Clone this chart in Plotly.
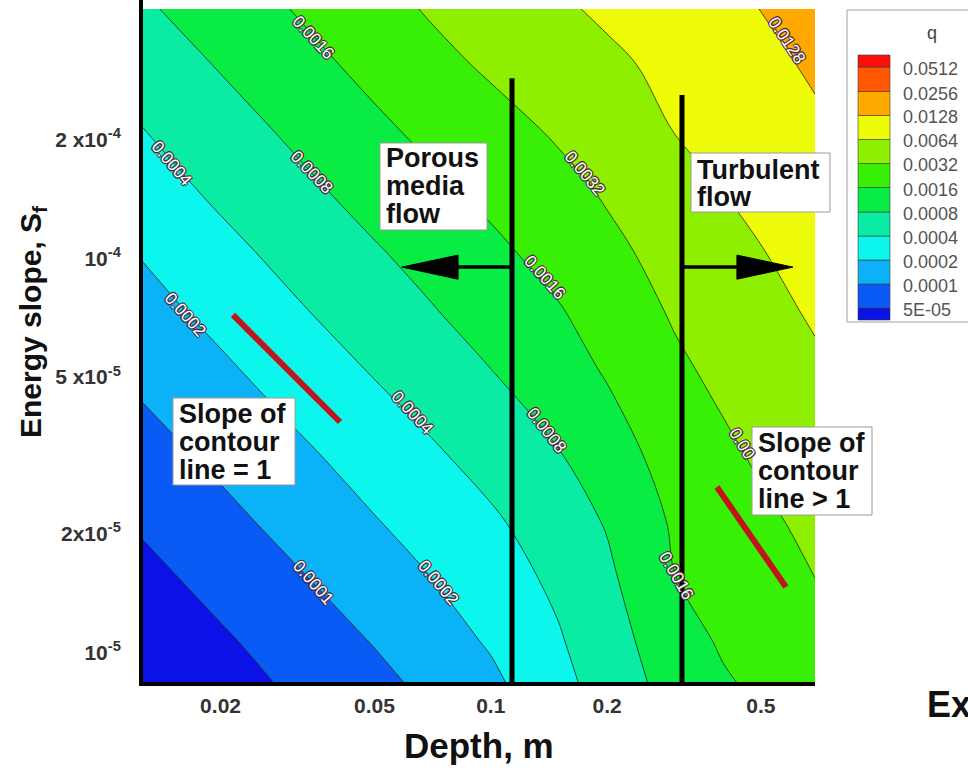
import numpy as np
import plotly.graph_objects as go

# ---------------- figure / plot-area geometry (pixels) ----------------
W, H = 968, 775
PL, PR, PT, PB = 143, 815, 9, 682

def pxx(px):
    return (px - PL) / (PR - PL)

def pxy(py):
    return (PB - py) / (PB - PT)

# ---------------- data ----------------
depth_m = [0.0126, 0.02, 0.03, 0.05, 0.07, 0.1, 0.15, 0.2, 0.3, 0.4, 0.5, 0.69]
energy_slope = [8.41e-6, 1.063e-5, 1.59e-5, 2.12e-5, 3.17e-5, 5.25e-5,
                7.36e-5, 1.045e-4, 1.563e-4, 2.08e-4, 3.114e-4, 4.30e-4]

# q (one row per energy slope, columns follow depth_m)
q_sf01 = [2.50e-5, 3.79e-5, 5.43e-5, 8.47e-5, 1.17e-4, 1.75e-4, 3.25e-4, 5.46e-4, 1.04e-3, 1.49e-3, 1.83e-3, 2.36e-3]
q_sf02 = [3.01e-5, 4.54e-5, 6.51e-5, 1.03e-4, 1.45e-4, 2.14e-4, 3.76e-4, 6.06e-4, 1.18e-3, 1.74e-3, 2.08e-3, 2.73e-3]
q_sf03 = [4.23e-5, 6.42e-5, 9.20e-5, 1.48e-4, 2.04e-4, 2.95e-4, 4.69e-4, 7.16e-4, 1.61e-3, 2.05e-3, 2.48e-3, 3.24e-3]
q_sf04 = [5.43e-5, 8.18e-5, 1.19e-4, 1.91e-4, 2.58e-4, 3.58e-4, 5.70e-4, 8.34e-4, 1.75e-3, 2.29e-3, 2.82e-3, 3.70e-3]
q_sf05 = [7.68e-5, 1.16e-4, 1.68e-4, 2.68e-4, 3.63e-4, 5.13e-4, 7.73e-4, 1.20e-3, 2.07e-3, 2.84e-3, 3.50e-3, 4.53e-3]
q_sf06 = [1.19e-4, 1.80e-4, 2.64e-4, 4.23e-4, 5.78e-4, 8.00e-4, 1.24e-3, 1.70e-3, 2.86e-3, 3.75e-3, 4.49e-3, 5.81e-3]
q_sf07 = [1.58e-4, 2.43e-4, 3.58e-4, 5.70e-4, 7.67e-4, 1.06e-3, 1.53e-3, 2.16e-3, 3.45e-3, 4.37e-3, 5.27e-3, 6.91e-3]
q_sf08 = [2.11e-4, 3.32e-4, 4.82e-4, 7.57e-4, 1.01e-3, 1.39e-3, 2.05e-3, 2.77e-3, 4.02e-3, 5.16e-3, 6.27e-3, 8.27e-3]
q_sf09 = [3.05e-4, 4.76e-4, 6.77e-4, 1.07e-3, 1.45e-3, 1.97e-3, 2.75e-3, 3.53e-3, 5.13e-3, 6.63e-3, 7.83e-3, 9.90e-3]
q_sf10 = [3.89e-4, 5.94e-4, 8.57e-4, 1.38e-3, 1.85e-3, 2.46e-3, 3.43e-3, 4.46e-3, 6.44e-3, 7.88e-3, 9.18e-3, 1.15e-2]
q_sf11 = [5.50e-4, 8.40e-4, 1.22e-3, 1.94e-3, 2.64e-3, 3.53e-3, 4.65e-3, 5.65e-3, 7.56e-3, 9.31e-3, 1.10e-2, 1.39e-2]
q_sf12 = [7.31e-4, 1.11e-3, 1.59e-3, 2.53e-3, 3.41e-3, 4.37e-3, 5.85e-3, 7.10e-3, 9.24e-3, 1.11e-2, 1.29e-2, 1.58e-2]

q_levels = [5e-05, 0.0001, 0.0002, 0.0004, 0.0008, 0.0016, 0.0032, 0.0064, 0.0128, 0.0256, 0.0512]
q_level_labels = ["5E-05", "0.0001", "0.0002", "0.0004", "0.0008", "0.0016",
                  "0.0032", "0.0064", "0.0128", "0.0256", "0.0512"]
# flood colour of each band, from below 5E-05 up to above 0.0512
band_colors = ["#0a12e8", "#0a5af5", "#0cb2f8", "#0cf6ee", "#0aeca4", "#08ec44",
               "#38ef06", "#8ef000", "#eefc08", "#ffa800", "#ff5800", "#ff0c0c"]

x_tickvals = [0.02, 0.05, 0.1, 0.2, 0.5]
x_ticktext = ["0.02", "0.05", "0.1", "0.2", "0.5"]
y_tickvals = [1e-5, 2e-5, 5e-5, 1e-4, 2e-4]
y_ticktext = ["10<sup>-5</sup>", "2x10<sup>-5</sup>", "5 x10<sup>-5</sup>",
              "10<sup>-4</sup>", "2 x10<sup>-4</sup>"]

# flow-regime boundaries and arrows
regime_depth = [0.1135, 0.3124]
regime_top_sf = [2.87e-4, 2.60e-4]
arrow_sf = 9.51e-5
arrow_head_sf = [1.02e-4, 8.86e-5]
arrow_left_depth = [0.1135, 0.0823, 0.0589]    # tail, head base, tip
arrow_right_depth = [0.3124, 0.4334, 0.605]

# red "slope of contour line" markers
slope1_depth = [0.02153, 0.04074]
slope1_sf = [7.19e-5, 3.845e-5]
slope2_depth = [0.3847, 0.5801]
slope2_sf = [2.63e-5, 1.466e-5]

# contour line labels
label_text = ["0.0016", "0.0004", "0.0008", "0.0002", "0.0032", "0.0016", "0.0128",
              "0.0004", "0.0001", "0.0002", "0.0008", "0.00", "0.0016"]
label_depth = [0.0347, 0.01497, 0.0345, 0.01618, 0.1752, 0.1381, 0.5838,
               0.06255, 0.0347, 0.07302, 0.1398, 0.4470, 0.3013]
label_sf = [3.63e-4, 1.747e-4, 1.657e-4, 7.19e-5, 1.647e-4, 8.97e-5, 3.584e-4,
            4.053e-5, 1.501e-5, 1.501e-5, 3.669e-5, 3.40e-5, 1.563e-5]
label_angle = [47, 50, 46, 48, 50, 48, 56, 47, 49, 50, 52, 58, 60]

# ---------------- build figure ----------------
q = np.array([q_sf01, q_sf02, q_sf03, q_sf04, q_sf05, q_sf06,
              q_sf07, q_sf08, q_sf09, q_sf10, q_sf11, q_sf12])
z = np.log2(q / q_levels[0])          # contour level index: 0 -> 5E-05 ... 10 -> 0.0512
nlev = len(q_levels)                   # 11 levels -> 12 bands
nb = len(band_colors)
colorscale = []
for j, c in enumerate(band_colors):
    lo = max(0.0, (j - 0.5) / (nb - 1))
    hi = min(1.0, (j + 0.5) / (nb - 1))
    colorscale.append([lo, c])
    colorscale.append([hi, c])

fig = go.Figure()
fig.add_trace(go.Contour(
    x=depth_m, y=energy_slope, z=z,
    contours=dict(start=0, end=nlev - 1, size=1, coloring="fill", showlines=True),
    line=dict(color="#1e2a1e", width=0.8),
    colorscale=colorscale, showscale=False, hoverinfo="skip",
))

# regime boundaries
for d, top in zip(regime_depth, regime_top_sf):
    fig.add_trace(go.Scatter(x=[d, d], y=[energy_slope[0], top], mode="lines",
                             line=dict(color="black", width=5), hoverinfo="skip",
                             showlegend=False))

# arrows
for arr in (arrow_left_depth, arrow_right_depth):
    fig.add_trace(go.Scatter(x=[arr[0], arr[1]], y=[arrow_sf, arrow_sf], mode="lines",
                             line=dict(color="black", width=3.5), hoverinfo="skip",
                             showlegend=False))
    fig.add_trace(go.Scatter(x=[arr[1], arr[2], arr[1], arr[1]],
                             y=[arrow_head_sf[0], arrow_sf, arrow_head_sf[1], arrow_head_sf[0]],
                             mode="lines", fill="toself", fillcolor="black",
                             line=dict(color="black", width=1), hoverinfo="skip",
                             showlegend=False))

# red slope markers
for xs, ys in ((slope1_depth, slope1_sf), (slope2_depth, slope2_sf)):
    fig.add_trace(go.Scatter(x=xs, y=ys, mode="lines",
                             line=dict(color="#c0161a", width=6), hoverinfo="skip",
                             showlegend=False))

FONT = "Liberation Sans, Arial, Helvetica, sans-serif"
annotations = []
shapes = []

# contour labels
outline = "#4b2a3c"
shadow = ("1px 1px 0 %s, -1px -1px 0 %s, 1px -1px 0 %s, -1px 1px 0 %s"
          % (outline, outline, outline, outline))
for t, d, s, a in zip(label_text, label_depth, label_sf, label_angle):
    fnt = dict(family=FONT, size=17, color="white")
    try:
        ann = go.layout.Annotation(text=t, x=np.log10(d), y=np.log10(s), xref="x", yref="y",
                                   textangle=a, showarrow=False,
                                   font=dict(fnt, shadow=shadow))
    except ValueError:
        ann = go.layout.Annotation(text=t, x=np.log10(d), y=np.log10(s), xref="x", yref="y",
                                   textangle=a, showarrow=False,
                                   font=dict(fnt, color="#333"), bgcolor="white")
    annotations.append(ann)

# text boxes: (left, top, right, bottom) px, lines, line centres
boxes = [
    ((380, 143, 487, 230), ["Porous", "media", "flow"], [158, 186, 214]),
    ((691, 153, 830, 212), ["Turbulent", "flow"], [170, 197]),
    ((173, 398, 295, 485), ["Slope of", "contour", "line = 1"], [414, 442, 470]),
    ((752, 427, 872, 515), ["Slope of", "contour", "line &gt; 1"], [443, 471, 499]),
]
for (x0, y0, x1, y1), lines, ys in boxes:
    shapes.append(dict(type="rect", xref="paper", yref="paper",
                       x0=pxx(x0), x1=pxx(x1), y0=pxy(y1), y1=pxy(y0),
                       fillcolor="white", line=dict(color="#9a9a9a", width=1), layer="above"))
    for txt, yc in zip(lines, ys):
        annotations.append(dict(text="<b>%s</b>" % txt, xref="paper", yref="paper",
                                x=pxx(x0 + 4), y=pxy(yc), xanchor="left", yanchor="middle",
                                showarrow=False, font=dict(family=FONT, size=27, color="#111")))

# left axis line runs to the top of the picture
shapes.append(dict(type="line", xref="paper", yref="paper", x0=pxx(141), x1=pxx(141),
                   y0=1, y1=pxy(0), line=dict(color="black", width=4)))

# legend (Tecplot style)
shapes.append(dict(type="rect", xref="paper", yref="paper",
                   x0=pxx(847), x1=pxx(980), y0=pxy(322), y1=pxy(10),
                   fillcolor="white", line=dict(color="#a0a0a0", width=1)))
row_edges = [320, 308, 284, 260, 236, 212, 187.5, 163.5, 139.5, 115.5, 91.5, 67, 55]
for j, c in enumerate(band_colors):
    shapes.append(dict(type="rect", xref="paper", yref="paper",
                       x0=pxx(858), x1=pxx(890), y0=pxy(row_edges[j]), y1=pxy(row_edges[j + 1]),
                       fillcolor=c, line=dict(color="#3a3a3a", width=0.6)))
for k, lab in enumerate(q_level_labels):
    annotations.append(dict(text=lab, xref="paper", yref="paper",
                            x=pxx(901), y=pxy(row_edges[k + 1] + 2), xanchor="left",
                            yanchor="middle", showarrow=False,
                            font=dict(family=FONT, size=18, color="#555")))
annotations.append(dict(text="q", xref="paper", yref="paper", x=pxx(932), y=pxy(33),
                        xanchor="center", yanchor="middle", showarrow=False,
                        font=dict(family=FONT, size=18, color="#444")))

# axis titles and the clipped heading at the bottom right
annotations.append(dict(text="<b>Depth, m</b>", xref="paper", yref="paper",
                        x=pxx(479), y=pxy(745), xanchor="center", yanchor="middle",
                        showarrow=False, font=dict(family=FONT, size=35, color="#111")))
annotations.append(dict(text="<b>Energy slope, S<sub>f</sub></b>", xref="paper", yref="paper",
                        x=pxx(32), y=pxy(322), xanchor="center", yanchor="middle",
                        textangle=-90, showarrow=False,
                        font=dict(family=FONT, size=30, color="#111")))
annotations.append(dict(text="<b>Ex</b>", xref="paper", yref="paper",
                        x=pxx(925), y=pxy(704), xanchor="left", yanchor="middle",
                        showarrow=False, font=dict(family=FONT, size=36, color="#111")))

fig.update_layout(
    width=W, height=H,
    margin=dict(l=PL, r=W - PR, t=PT, b=H - PB),
    paper_bgcolor="white", plot_bgcolor="white",
    showlegend=False,
    font=dict(family=FONT),
    xaxis=dict(type="log", range=[np.log10(depth_m[0]), np.log10(depth_m[-1])],
               tickvals=x_tickvals, ticktext=["<b>%s</b>" % t for t in x_ticktext],
               ticks="", showgrid=False, zeroline=False,
               showline=True, linecolor="black", linewidth=4,
               tickfont=dict(family=FONT, size=21, color="#333"),
               ticklabelstandoff=2),
    yaxis=dict(type="log", range=[np.log10(energy_slope[0]), np.log10(energy_slope[-1])],
               tickvals=y_tickvals, ticktext=["<b>%s</b>" % t for t in y_ticktext],
               ticks="", showgrid=False, zeroline=False,
               showline=True, linecolor="black", linewidth=4,
               tickfont=dict(family=FONT, size=21, color="#333"),
               ticklabelstandoff=14),
    annotations=annotations,
    shapes=shapes,
)

fig.write_html("out.html", config={"displayModeBar": False},
               post_script="document.body.style.margin='0';document.body.style.overflow='hidden';")
